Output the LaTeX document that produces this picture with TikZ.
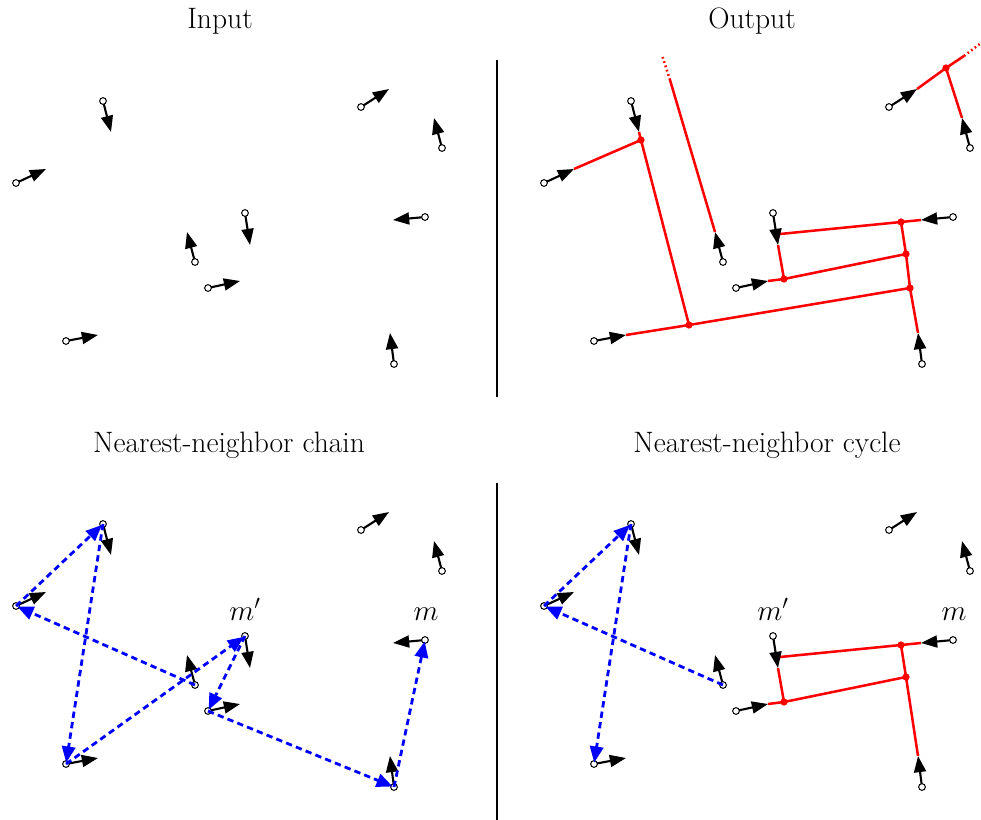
\documentclass[tikz,border=0pt]{standalone}
\usepackage{amsmath}
\usepackage{tikz}
\usetikzlibrary{arrows.meta,calc}
\definecolor{rayred}{HTML}{FF0000}
\definecolor{nnblue}{HTML}{0000FF}

% positions and arrow tips of the ten particles of one panel
\newcommand{\pts}[3]{%
 \begin{scope}[shift={(#2,#3)}]
  \coordinate (#1A) at (103,101); \coordinate (#1At) at (111,132);
  \coordinate (#1B) at (16,183);  \coordinate (#1Bt) at (46,169);
  \coordinate (#1C) at (195,262); \coordinate (#1Ct) at (187,232);
  \coordinate (#1D) at (245,213); \coordinate (#1Dt) at (250,245);
  \coordinate (#1E) at (208,288); \coordinate (#1Et) at (240,281);
  \coordinate (#1F) at (66,341);  \coordinate (#1Ft) at (98,335);
  \coordinate (#1G) at (361,107); \coordinate (#1Gt) at (389,89);
  \coordinate (#1H) at (442,148); \coordinate (#1Ht) at (434,118);
  \coordinate (#1I) at (425,217); \coordinate (#1It) at (393,220);
  \coordinate (#1J) at (394,364); \coordinate (#1Jt) at (390,333);
 \end{scope}}
\newcommand{\spins}[1]{%
 \foreach \p in {A,B,C,D,E,F,G,H,I,J} \draw[spin] (#1\p) -- (#1\p t);
 \foreach \p in {A,B,C,D,E,F,G,H,I,J} \draw[ring] (#1\p) circle[radius=2.4pt];}

\begin{document}
\begin{tikzpicture}[x=0.025cm, y=-0.025cm,
 spin/.style={line width=1.5pt, -{Triangle[length=11.5pt,width=8.5pt]}},
 ring/.style={line width=0.7pt, fill=white},
 ray/.style={rayred, line width=1.8pt},
 raytail/.style={rayred, line width=1.8pt, dash pattern=on 1.2pt off 2pt},
 nn/.style={nnblue, line width=2pt, dash pattern=on 4.5pt off 3pt, shorten >=1pt, -{Triangle[length=11.5pt,width=9.5pt]}},
 title/.style={font=\fontsize{21}{25}\selectfont, anchor=base},
 lbl/.style={font=\fontsize{21}{25}\selectfont, anchor=base}]
 \useasboundingbox (0,0) rectangle (981,820);

 \pts{in}{0}{0}
 \pts{out}{528}{0}
 \pts{ch}{0}{423}
 \pts{cy}{528}{423}

 % titles and separators
 \node[title] (tin) at (220,29) {Input};
 \node[title] (tout) at (752,29) {Output};
 \node[title] (tch) at (229,452) {Nearest-neighbor chain};
 \node[title] (tcy) at (767,452) {Nearest-neighbor cycle};
 \coordinate (sepA) at (497,60);  \coordinate (sepB) at (497,397);
 \coordinate (sepC) at (497,483); \coordinate (sepD) at (497,820);
 \draw[line width=1.4pt] (sepA) -- (sepB);
 \draw[line width=1.4pt] (sepC) -- (sepD);

 % output: meeting points of the rays
 \coordinate (oP1) at (641,140); \coordinate (oP2) at (689,325);
 \coordinate (oP3) at (910,288); \coordinate (oP4) at (784,279);
 \coordinate (oP5) at (901,222); \coordinate (oP6) at (946,68);
 \coordinate (oP7) at (906,254); \coordinate (oDk) at (780,234);
 \coordinate (oCe) at (670,80);  \coordinate (oCf) at (662,55);
 \coordinate (oGe) at (964,56);  \coordinate (oGf) at (981,43);
 \draw[ray] (outBt) -- (oP1);
 \draw[ray] (outAt) -- (oP1) -- (oP2) -- (oP3);
 \draw[ray] (outFt) -- (oP2);
 \draw[ray] (outJt) -- (oP3) -- (oP7) -- (oP5) -- (oDk);
 \draw[ray] (outIt) -- (oP5);
 \draw[ray] (outEt) -- (oP4) -- (oP7);
 \draw[ray] (outDt) -- (oP4);
 \draw[ray] (outCt) -- (oCe);
 \draw[raytail] (oCe) -- (oCf);
 \draw[ray] (outGt) -- (oP6) -- (oGe);
 \draw[raytail] (oGe) -- (oGf);
 \draw[ray] (outHt) -- (oP6);
 \foreach \q in {oP1,oP2,oP3,oP4,oP5,oP6,oP7} \fill[rayred] (\q) circle[radius=2.6pt];

 % cycle: the closed part of the rays
 \coordinate (cP4) at (784,702); \coordinate (cP5) at (901,645);
 \coordinate (cP7) at (906,677); \coordinate (cDk) at (780,657);
 \draw[ray] (cyDt) -- (cP4);
 \draw[ray] (cyEt) -- (cP4) -- (cP7) -- (cP5) -- (cDk);
 \draw[ray] (cyIt) -- (cP5);
 \draw[ray] (cyJt) -- (cP7);
 \foreach \q in {cP4,cP5,cP7} \fill[rayred] (\q) circle[radius=2.6pt];

 \spins{in}
 \spins{out}
 \spins{ch}
 \spins{cy}

 % nearest-neighbor steps
 \draw[nn] (chC) -- (chB);
 \draw[nn] (chB) -- (chA);
 \draw[nn] (chA) -- (chF);
 \draw[nn] (chF) -- (chD);
 \draw[nn] (chD) -- (chE);
 \draw[nn] (chE) -- (chJ);
 \draw[nn] (chJ) -- (chI);
 \draw[nn] (cyC) -- (cyB);
 \draw[nn] (cyB) -- (cyA);
 \draw[nn] (cyA) -- (cyF);

 \node[lbl] (chmp) at (245,620) {$m'$};
 \node[lbl] (chm) at (426,620) {$m$};
 \node[lbl] (cymp) at (773,620) {$m'$};
 \node[lbl] (cym) at (954,620) {$m$};
\end{tikzpicture}
\end{document}
